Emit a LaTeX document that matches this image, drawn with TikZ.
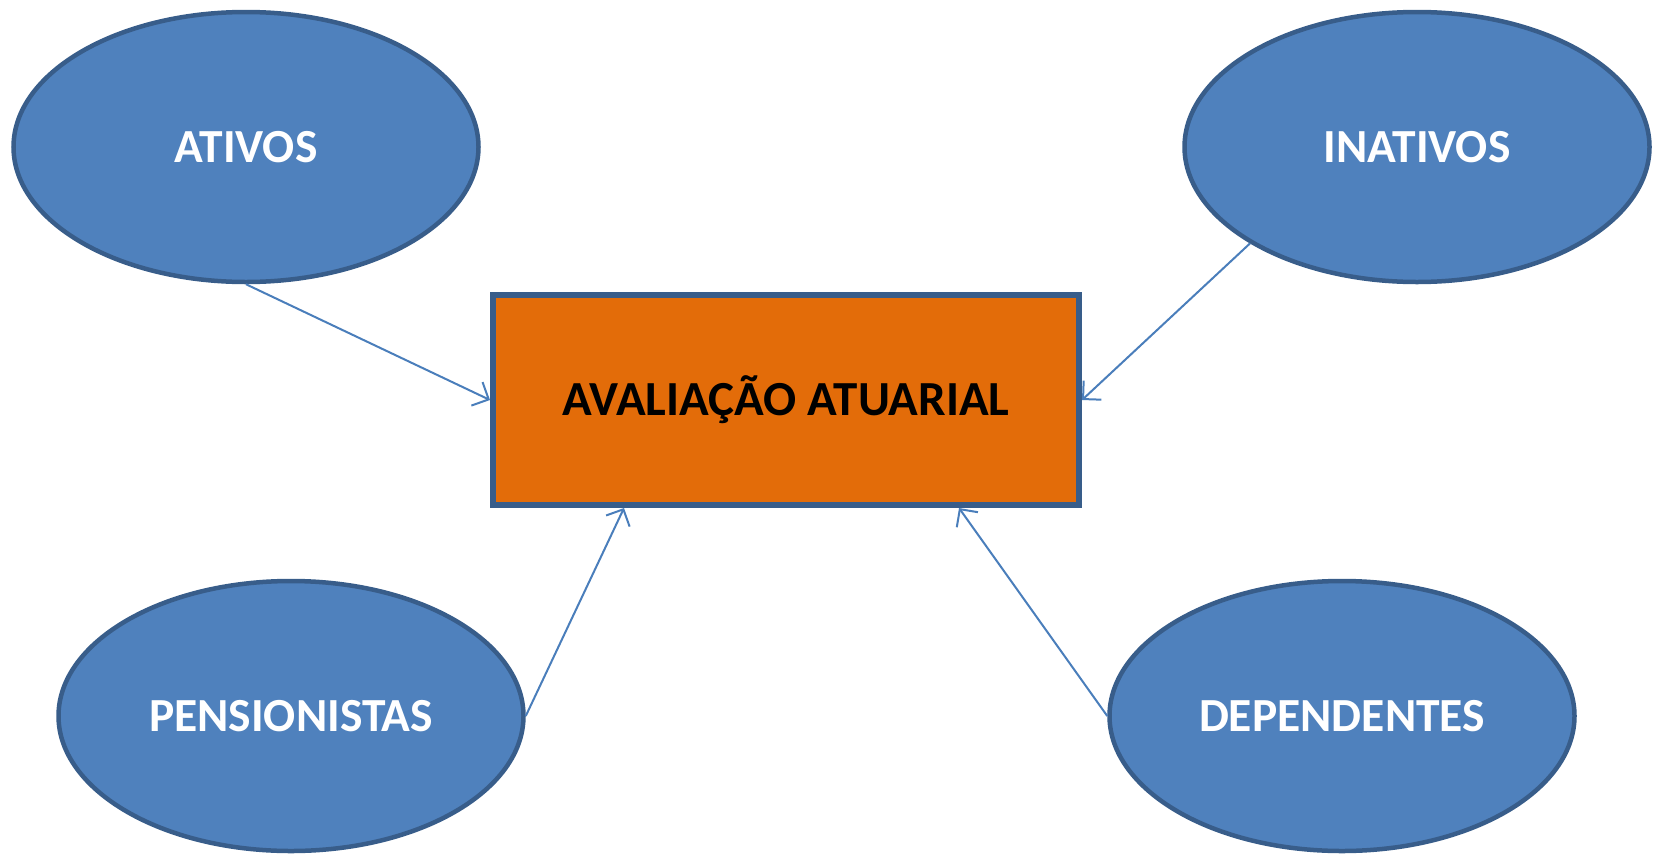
\documentclass[tikz,border=0pt]{standalone}
\usepackage{fontspec}
\setmainfont{Carlito}
\usetikzlibrary{shapes.geometric,arrows.meta,calc}
\definecolor{ellfill}{HTML}{4F81BD}
\definecolor{ellline}{HTML}{385D8A}
\definecolor{boxfill}{HTML}{E36C09}
\definecolor{arrowcol}{HTML}{4A7EBB}
\tikzset{
  group/.style={ellipse, draw=ellline, fill=ellfill, line width=4.5pt,
    minimum width=465pt, minimum height=270pt, inner sep=0pt,
    text=white, font=\fontsize{47.5}{52}\selectfont\bfseries},
  mainbox/.style={rectangle, draw=ellline, fill=boxfill, line width=6pt,
    minimum width=586pt, minimum height=210pt, inner sep=0pt,
    text=black, font=\fontsize{49}{54}\selectfont\bfseries},
  link/.style={draw=arrowcol, line width=2pt,
    -{Straight Barb[length=13pt,width=26pt,line width=2pt]}}
}
\begin{document}
\begin{tikzpicture}[x=1pt,y=-1pt]
\useasboundingbox (0,0) rectangle (1654,854);
\node[mainbox] (R) at (786,400) {AVALIAÇÃO ATUARIAL};
\node[group] (A) at (246,147) {ATIVOS};
\node[group] (I) at (1417,147) {INATIVOS};
\node[group] (P) at (291,716) {PENSIONISTAS};
\node[group] (D) at (1342,716) {DEPENDENTES};
\draw[link] (A.south) -- (R.west);
\draw[link] (I.210) -- (R.east);
\draw[link] (P.east) -- ($(R.south west)+(134pt,0pt)$);
\draw[link] (D.west) -- ($(R.south west)+(469pt,0pt)$);
\end{tikzpicture}
\end{document}
